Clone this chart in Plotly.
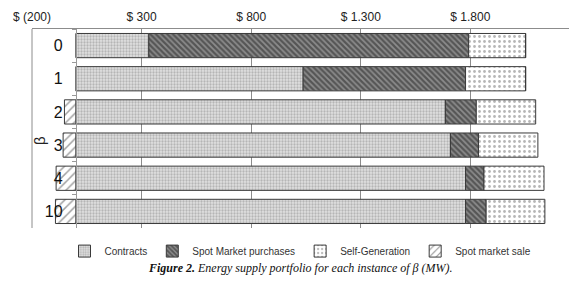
import plotly.graph_objects as go

categories = ["0", "1", "2", "3", "4", "10"]
contracts = [333, 1037, 1686, 1709, 1778, 1778]
spot_purchases = [1459, 741, 141, 128, 84, 94]
self_generation = [260, 274, 271, 271, 274, 268]
spot_sale = [0, 0, -52, -58, -90, -93]

tick_vals = [-200, 300, 800, 1300, 1800]
tick_text = ["$ (200)", "$ 300", "$ 800", "$ 1.300", "$ 1.800"]

line_style = dict(color="#3a3a3a", width=1)

fig = go.Figure()
fig.add_trace(go.Bar(
    y=categories, x=contracts, orientation="h", name="Contracts",
    marker=dict(color="#e0e0e0", line=line_style,
                pattern=dict(shape=".", fgcolor="#8a8a8a", size=3, solidity=0.45)),
))
fig.add_trace(go.Bar(
    y=categories, x=spot_purchases, orientation="h", name="Spot Market purchases",
    marker=dict(color="#8c8c8c", line=line_style,
                pattern=dict(shape="\\", fgcolor="#1e1e1e", size=4, solidity=0.55)),
))
fig.add_trace(go.Bar(
    y=categories, x=self_generation, orientation="h", name="Self-Generation",
    marker=dict(color="#ffffff", line=line_style,
                pattern=dict(shape=".", fgcolor="#6e6e6e", size=5, solidity=0.25)),
))
fig.add_trace(go.Bar(
    y=categories, x=spot_sale, orientation="h", name="Spot market sale",
    marker=dict(color="#ffffff", line=line_style,
                pattern=dict(shape="/", fgcolor="#444444", size=6, solidity=0.25)),
))

fig.update_layout(
    width=580, height=288,
    margin=dict(l=32, r=11, t=29, b=60, autoexpand=False),
    barmode="relative",
    bargap=0.27,
    plot_bgcolor="#ffffff",
    paper_bgcolor="#ffffff",
    font=dict(family="Liberation Sans, Arial", color="#222222"),
    showlegend=True,
    legend=dict(orientation="h", x=0.5, xanchor="center", y=-0.116, yanchor="middle",
                font=dict(size=10, color="#333333"), itemwidth=30,
                traceorder="normal", bgcolor="rgba(0,0,0,0)"),
)

fig.update_xaxes(
    side="top", range=[-200, 2250], domain=[0, 1], automargin=False,
    tickvals=tick_vals, ticktext=tick_text,
    tickfont=dict(size=12, color="#222222"),
    ticks="", ticklabelstandoff=2,
    showgrid=True, gridcolor="#8c8c8c", gridwidth=1,
    zeroline=False,
    showline=True, linecolor="#8c8c8c", linewidth=1,
)
fig.update_yaxes(
    type="category", categoryorder="array", categoryarray=categories,
    autorange="reversed", automargin=False,
    anchor="free", position=200 / 2450,
    showline=True, linecolor="#9a9a9a", linewidth=1,
    ticks="outside", tickson="boundaries", ticklen=4, tickcolor="#9a9a9a",
    tickfont=dict(size=16, color="#111111"),
    ticklabelstandoff=10,
    showgrid=False, zeroline=False,
)

# left border of the plot area
fig.add_shape(type="line", xref="paper", yref="paper", x0=0, x1=0, y0=0, y1=1,
              line=dict(color="#8c8c8c", width=1))

# axis title beta
fig.add_annotation(text="β", xref="paper", yref="paper", x=0, y=0.437,
                   xanchor="center", yanchor="middle", xshift=7, textangle=-90,
                   showarrow=False, font=dict(size=15, color="#222222"))

# caption
fig.add_annotation(
    text="<b><i>Figure 2.</i></b><i> Energy supply portfolio for each instance of β (MW).</i>",
    xref="paper", yref="paper", x=0.5, y=-0.201, xanchor="center", yanchor="middle",
    showarrow=False, font=dict(family="Liberation Serif, Times New Roman", size=12, color="#111111"))

fig.write_html("out.html", config={"displayModeBar": False},
               post_script="document.body.style.margin='0';")
